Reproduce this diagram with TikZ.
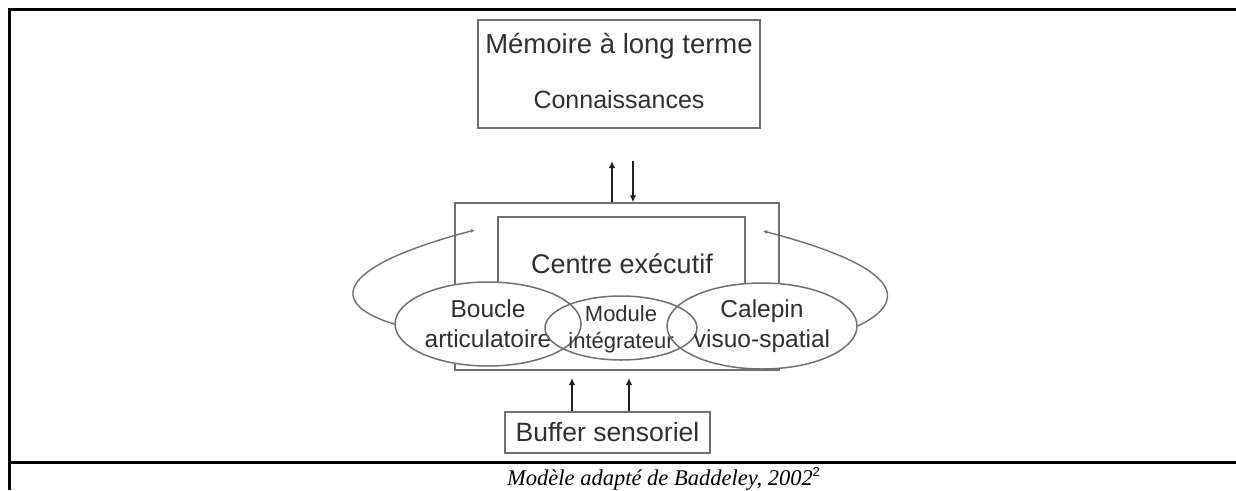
\documentclass[tikz,border=0pt]{standalone}
\usepackage{fontspec}
\setmainfont{Liberation Sans}
\newfontfamily\capfont{Liberation Serif}
\usetikzlibrary{shapes.geometric,arrows.meta}
\definecolor{linegray}{HTML}{707070}
\definecolor{txtgray}{HTML}{303030}
\definecolor{arrowdark}{HTML}{202020}
\begin{document}
\begin{tikzpicture}[x=1pt,y=-1pt,
  gl/.style={draw=linegray,line width=1.5pt},
  boxnode/.style={gl,rectangle,inner sep=0pt},
  txt/.style={text=txtgray,inner sep=0pt,align=center},
  ellnode/.style={gl,ellipse,inner sep=0pt},
  vArrow/.style={draw=arrowdark,line width=2.2pt,-{Latex[length=7pt,width=6.5pt]}},
  loopArrow/.style={draw=linegray,line width=1.4pt,-{Latex[length=4pt,width=4pt]}},
  frame/.style={draw=black,line width=3pt}]
\useasboundingbox (0,0) rectangle (1236,490);
% table frame
\draw[frame] (9,490) -- (9,9) -- (1236,9);
\draw[frame] (9,462) -- (1236,462);
% long-term memory
\node[boxnode,minimum width=282pt,minimum height=108pt] (M) at (619,74) {};
\node[txt,font=\fontsize{27.5}{32}\selectfont,anchor=base] (Mt) at (619,53) {Mémoire à long terme};
\node[txt,font=\fontsize{25}{30}\selectfont,anchor=base] (Mc) at (619,108) {Connaissances};
% outer and inner boxes
\node[boxnode,minimum width=324pt,minimum height=167pt] (O) at (617,286.5) {};
\node[boxnode,minimum width=247pt,minimum height=93pt] (I) at (621.5,263.5) {};
\node[txt,font=\fontsize{27}{32}\selectfont,anchor=base] (It) at (622,273) {Centre exécutif};
% white fills of the ellipses
\fill[white] (488,324) ellipse [x radius=93, y radius=42];
\fill[white] (621,328) ellipse [x radius=76, y radius=32];
\fill[white] (762,326) ellipse [x radius=95, y radius=43];
% ellipses
\node[ellnode,minimum width=186pt,minimum height=84pt,
  label={[txt,font=\fontsize{24.5}{30}\selectfont]center:Boucle\\articulatoire}] (B) at (488,324) {};
\node[ellnode,minimum width=152pt,minimum height=64pt,
  label={[txt,font=\fontsize{22}{27}\selectfont,yshift=-1pt]center:Module\\intégrateur}] (MI) at (621,328) {};
\node[ellnode,minimum width=190pt,minimum height=86pt,
  label={[txt,font=\fontsize{24.5}{30}\selectfont]center:Calepin\\visuo-spatial}] (C) at (762,326) {};
% loops
\coordinate (dL) at (475,230);
\coordinate (dR) at (763,231);
\draw[loopArrow] (B.west) .. controls (330,305) and (330,268) .. (dL);
\draw[loopArrow] (C.east) .. controls (908,302) and (905,268) .. (dR);
% arrows between LTM and executive
\coordinate (u1) at (612,161);
\coordinate (d1) at (633,161);
\draw[vArrow] (O.north -| u1) -- (u1);
\draw[vArrow] (d1) -- (O.north -| d1);
% sensory buffer
\node[boxnode,minimum width=205pt,minimum height=41pt,
  label={[txt,font=\fontsize{26.5}{30}\selectfont]center:Buffer sensoriel}] (S) at (607.5,432.5) {};
\coordinate (b1) at (572,378);
\coordinate (b2) at (629,378);
\draw[vArrow] (S.north -| b1) -- (b1);
\draw[vArrow] (S.north -| b2) -- (b2);
% caption
\node[anchor=base west,inner sep=0pt,font=\capfont\itshape\fontsize{22.5}{26}\selectfont] (cap) at (507,485)
  {Modèle adapté de Baddeley, 2002\raisebox{9pt}{\normalfont\fontsize{13}{14}\selectfont 2}};
\end{tikzpicture}
\end{document}
